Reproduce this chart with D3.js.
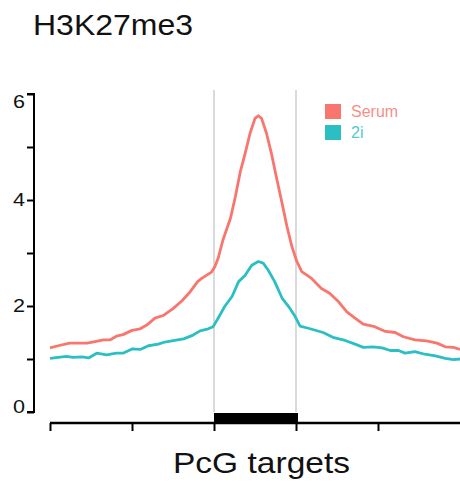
<!DOCTYPE html>
<html>
<head>
<meta charset="utf-8">
<script src="https://cdn.jsdelivr.net/npm/d3@7"></script>
<style>
  body { margin: 0; background: #fff; }
  text { font-family: "Liberation Sans", Arial, Helvetica, sans-serif; }
</style>
</head>
<body>
<script>
// profile positions (region units: 0..1 = PcG target body)
var serumX = [-2.00, -1.90, -1.76, -1.55, -1.45, -1.35, -1.27, -1.19, -1.11, -1.00, -0.90, -0.82, -0.72, -0.62, -0.50, -0.39, -0.29, -0.20, -0.15, -0.03,
  0.01, 0.05, 0.11, 0.20, 0.26, 0.32, 0.38, 0.44, 0.50, 0.54, 0.58, 0.64, 0.70, 0.76, 0.83, 0.89, 0.95, 1.01, 1.07, 1.19,
  1.31, 1.41, 1.52, 1.62, 1.72, 1.82, 1.96, 2.09, 2.21, 2.31, 2.45, 2.59, 2.72, 2.82, 2.92, 3.00];
var serumY = [1.21, 1.25, 1.30, 1.30, 1.33, 1.36, 1.36, 1.43, 1.46, 1.54, 1.57, 1.64, 1.77, 1.82, 1.95, 2.10, 2.27, 2.46, 2.52, 2.64,
  2.74, 2.90, 3.25, 3.65, 4.06, 4.53, 4.88, 5.26, 5.54, 5.59, 5.54, 5.26, 4.88, 4.44, 3.94, 3.50, 3.12, 2.84, 2.65, 2.52,
  2.33, 2.24, 2.08, 1.89, 1.77, 1.66, 1.61, 1.52, 1.50, 1.42, 1.36, 1.34, 1.30, 1.23, 1.22, 1.18];

var twoiX = [-2.00, -1.90, -1.80, -1.72, -1.61, -1.53, -1.43, -1.31, -1.19, -1.11, -1.00, -0.90, -0.80, -0.68, -0.60, -0.48, -0.37, -0.27, -0.17, -0.07,
  -0.01, 0.05, 0.13, 0.22, 0.30, 0.38, 0.46, 0.54, 0.60, 0.66, 0.74, 0.83, 0.91, 0.99, 1.05, 1.15, 1.33, 1.45, 1.60, 1.72,
  1.82, 1.94, 2.05, 2.15, 2.25, 2.33, 2.45, 2.57, 2.70, 2.82, 2.92, 3.00];
var twoiY = [1.01, 1.03, 1.05, 1.03, 1.04, 1.02, 1.11, 1.08, 1.11, 1.11, 1.19, 1.18, 1.25, 1.28, 1.32, 1.35, 1.38, 1.44, 1.53, 1.57,
  1.61, 1.77, 1.99, 2.18, 2.46, 2.58, 2.77, 2.84, 2.81, 2.68, 2.46, 2.15, 1.99, 1.80, 1.62, 1.58, 1.50, 1.41, 1.35, 1.28,
  1.22, 1.23, 1.21, 1.16, 1.16, 1.11, 1.14, 1.09, 1.06, 1.01, 0.99, 1.00];

var seriesNames = ['Serum', '2i'];
var seriesColors = ['#F8766D', '#2BBFC4'];
var yTicks = [0, 1, 2, 3, 4, 5, 6];
var yLabels = ['0', '', '2', '', '4', '', '6'];
var xTicks = [-2, -1, 0, 1, 2];
var region = [0, 1];

var svg = d3.select('body').append('svg')
    .attr('width', 460)
    .attr('height', 484);

var x = d3.scaleLinear().domain([-2, 3]).range([50, 460]);
var y = d3.scaleLinear().domain([0, 6]).range([412, 94]);

// title
svg.append('text')
    .attr('x', 33).attr('y', 35)
    .attr('font-size', 29)
    .attr('textLength', 160).attr('lengthAdjust', 'spacingAndGlyphs')
    .attr('fill', '#111')
    .text('H3K27me3');

// region guide lines
svg.selectAll('line.guide')
    .data(region).enter()
    .append('line')
    .attr('class', 'guide')
    .attr('x1', function(d){ return x(d); })
    .attr('x2', function(d){ return x(d); })
    .attr('y1', 90)
    .attr('y2', y(0))
    .attr('stroke', '#b5b5b5')
    .attr('stroke-width', 1);

// y axis
var yAxis = d3.axisLeft(y)
    .tickValues(yTicks)
    .tickSize(7)
    .tickPadding(2)
    .tickFormat(function(d, i){ return yLabels[i]; });
var gy = svg.append('g')
    .attr('transform', 'translate(34,0)')
    .call(yAxis);
gy.select('.domain').attr('stroke', '#000').attr('stroke-width', 2)
    .attr('d', 'M-7,' + y(6) + 'H0V' + y(0) + 'H-7');
gy.selectAll('.tick line').attr('stroke', '#000').attr('stroke-width', 2);
gy.selectAll('.tick text')
    .attr('font-size', 18)
    .attr('fill', '#111')
    .attr('textLength', function(d, i){ return yLabels[i] ? 12 : null; })
    .attr('lengthAdjust', 'spacingAndGlyphs')
    .attr('dy', function(d){
        if (d === 6) return '0.75em';
        if (d === 0) return '0em';
        return '0.32em';
    });

// lines
var line = d3.line()
    .x(function(d){ return x(d[0]); })
    .y(function(d){ return y(d[1]); });

var series = [
    d3.zip(serumX, serumY),
    d3.zip(twoiX, twoiY)
];

svg.selectAll('path.profile')
    .data(series).enter()
    .append('path')
    .attr('class', 'profile')
    .attr('d', line)
    .attr('fill', 'none')
    .attr('stroke', function(d, i){ return seriesColors[i]; })
    .attr('stroke-width', 2.8)
    .attr('stroke-linejoin', 'round');

// region bar
svg.append('rect')
    .attr('x', x(region[0]))
    .attr('width', x(region[1]) - x(region[0]) + 2)
    .attr('y', 413)
    .attr('height', 9)
    .attr('fill', '#000');

// x axis
var xAxis = d3.axisBottom(x)
    .tickValues(xTicks)
    .tickSize(8)
    .tickFormat('');
var gx = svg.append('g')
    .attr('transform', 'translate(0,423)')
    .call(xAxis);
gx.select('.domain').attr('stroke', '#000').attr('stroke-width', 2.5)
    .attr('d', 'M' + x(-2) + ',0H' + x(3));
gx.selectAll('.tick line').attr('stroke', '#000').attr('stroke-width', 2);

// x label
svg.append('text')
    .attr('x', 173).attr('y', 473)
    .attr('font-size', 29)
    .attr('textLength', 177).attr('lengthAdjust', 'spacingAndGlyphs')
    .attr('fill', '#111')
    .text('PcG targets');

// legend
var legend = svg.selectAll('g.legend')
    .data(seriesNames).enter()
    .append('g')
    .attr('class', 'legend')
    .attr('transform', function(d, i){ return 'translate(325,' + (104 + i * 21) + ')'; });
legend.append('rect')
    .attr('width', 16).attr('height', 15)
    .attr('fill', function(d, i){ return seriesColors[i]; });
legend.append('text')
    .attr('x', 26).attr('y', 13)
    .attr('font-size', 16)
    .attr('fill', function(d, i){ return seriesColors[i]; })
    .attr('fill-opacity', 0.85)
    .text(function(d){ return d; });
</script>
</body>
</html>
